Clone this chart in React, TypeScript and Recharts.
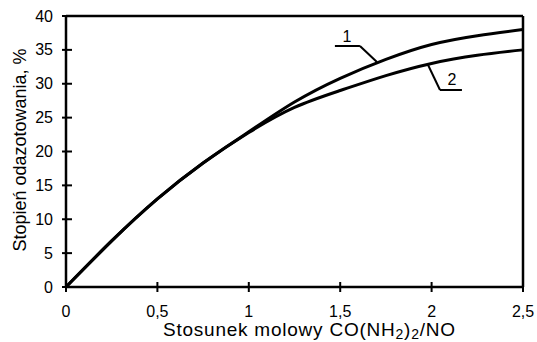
import { LineChart, Line, XAxis, YAxis, ReferenceLine, ReferenceDot } from 'recharts'

const ratios = [0, 0.25, 0.5, 0.75, 1, 1.25, 1.5, 1.75, 2, 2.25, 2.5]
const curve1 = [0, 6.8, 13.0, 18.3, 22.9, 27.3, 30.8, 33.6, 35.8, 37.1, 38]
const curve2 = [0, 6.8, 13.0, 18.3, 22.8, 26.5, 29.0, 31.2, 33.0, 34.2, 35]
const xTicks = [0, 0.5, 1, 1.5, 2, 2.5]
const yTicks = [0, 5, 10, 15, 20, 25, 30, 35, 40]

// leader lines for the curve numbers
const leader1 = [
  { x: 1.471, y: 35.57 },
  { x: 1.608, y: 35.57 },
  { x: 1.701, y: 33.2 }
]
const leader2 = [
  { x: 1.98, y: 32.8 },
  { x: 2.046, y: 29.08 },
  { x: 2.166, y: 29.08 }
]

const data = ratios.map((r, i) => ({ r, c1: curve1[i], c2: curve2[i] }))

const FONT = '"Liberation Sans", Arial, sans-serif'

const fmt = (v: number) => String(v).replace('.', ',')

const YTick = ({ x, y, payload }: any) => (
  <g>
    <line x1={x - 4} x2={x + 6} y1={y} y2={y} stroke="#000" strokeWidth={2} />
    <text x={x - 13} y={y} dy="0.35em" textAnchor="end" fontSize={16} fontFamily={FONT} fill="#000">
      {payload.value}
    </text>
  </g>
)

const XTick = ({ x, y, payload }: any) => (
  <g>
    <line x1={x} x2={x} y1={y - 5} y2={y + 5} stroke="#000" strokeWidth={2} />
    <text x={x} y={y + 30} textAnchor="middle" fontSize={16} fontFamily={FONT} fill="#000">
      {fmt(payload.value)}
    </text>
  </g>
)

const XLabel = () => (
  <text x={163} y={336} fontSize={19} fontFamily={FONT} fill="#000" textLength={292} lengthAdjust="spacing">
    Stosunek molowy CO(NH
    <tspan fontSize={14} dy={3}>2</tspan>
    <tspan dy={-3}>)</tspan>
    <tspan fontSize={14} dy={3}>2</tspan>
    <tspan dy={-3}>/NO</tspan>
  </text>
)

const YLabel = () => (
  <text
    x={0}
    y={0}
    transform="translate(26, 150) rotate(-90)"
    textAnchor="middle"
    fontSize={18}
    fontFamily={FONT}
    fill="#000"
  >
    Stopień odazotowania, %
  </text>
)

export default function App() {
  return (
    <div style={{ position: 'absolute', left: 0, top: 0, background: '#fff' }}>
      <LineChart width={537} height={342} data={data} margin={{ top: 16, right: 14, left: 0, bottom: 25 }}>
        <XAxis
          dataKey="r"
          type="number"
          domain={[0, 2.5]}
          ticks={xTicks}
          height={30}
          tick={<XTick />}
          tickSize={0}
          tickMargin={0}
          tickLine={false}
          axisLine={{ stroke: '#000', strokeWidth: 2.5 }}
          label={<XLabel />}
        />
        <YAxis
          type="number"
          domain={[0, 40]}
          ticks={yTicks}
          width={66}
          tick={<YTick />}
          tickSize={0}
          tickMargin={0}
          tickLine={false}
          axisLine={{ stroke: '#000', strokeWidth: 2.5 }}
          label={<YLabel />}
        />
        <ReferenceLine y={40} stroke="#000" strokeWidth={2.5} />
        <ReferenceLine x={2.5} stroke="#000" strokeWidth={2.5} />

        <Line type="natural" dataKey="c1" stroke="#000" strokeWidth={3} dot={false} isAnimationActive={false} />
        <Line type="natural" dataKey="c2" stroke="#000" strokeWidth={3} dot={false} isAnimationActive={false} />

        <ReferenceLine segment={[leader1[0], leader1[1]]} stroke="#000" strokeWidth={2} />
        <ReferenceLine segment={[leader1[1], leader1[2]]} stroke="#000" strokeWidth={2} />
        <ReferenceLine segment={[leader2[0], leader2[1]]} stroke="#000" strokeWidth={2} />
        <ReferenceLine segment={[leader2[1], leader2[2]]} stroke="#000" strokeWidth={2} />

        <ReferenceDot
          x={1.537}
          y={37.05}
          r={0}
          fill="none"
          stroke="none"
          label={{ value: '1', position: 'center', fontSize: 16, fontFamily: FONT, fill: '#000' }}
        />
        <ReferenceDot
          x={2.112}
          y={30.7}
          r={0}
          fill="none"
          stroke="none"
          label={{ value: '2', position: 'center', fontSize: 16, fontFamily: FONT, fill: '#000' }}
        />
      </LineChart>
    </div>
  )
}
